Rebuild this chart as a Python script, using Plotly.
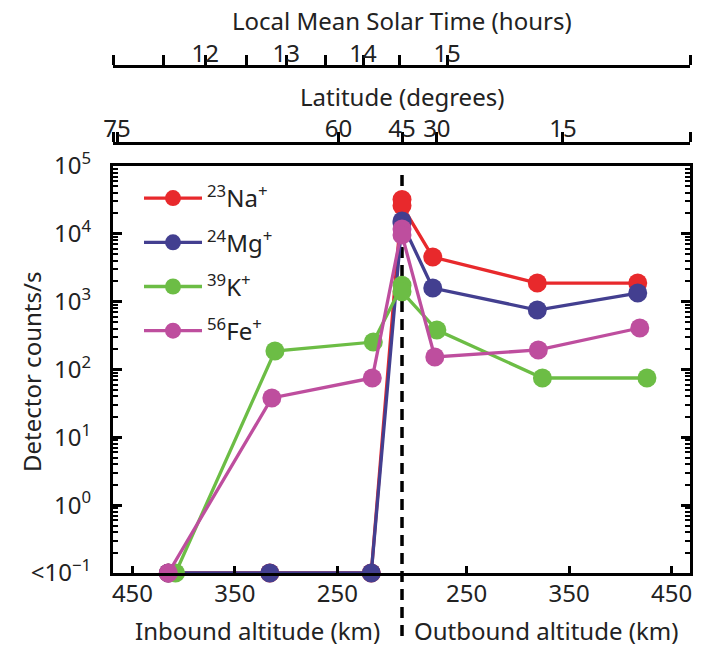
import plotly.graph_objects as go

# ---------------- data ----------------
periapsis_alt_km = 187  # altitude at the dashed line (closest approach)

species = ["<sup>23</sup>Na<sup>+</sup>", "<sup>24</sup>Mg<sup>+</sup>",
           "<sup>39</sup>K<sup>+</sup>", "<sup>56</sup>Fe<sup>+</sup>"]
colors = ["#E8292C", "#433F90", "#6CBD45", "#BE4E9E"]

# 0.1 means "<10^-1" (below detection, drawn on the floor of the axis)
na_in_alt = [415, 316, 217, 187]
na_in_val = [0.1, 0.1, 0.1, 32000]
na_out_alt = [187, 217, 319, 417]
na_out_val = [26000, 4550, 1880, 1880]

mg_in_alt = [415, 316, 217, 187]
mg_in_val = [0.1, 0.1, 0.1, 15500]
mg_out_alt = [187, 217, 319, 417]
mg_out_val = [14500, 1590, 753, 1340]

k_in_alt = [408, 311, 215, 187]
k_in_val = [0.1, 187, 254, 1750]
k_out_alt = [187, 221, 324, 426]
k_out_val = [1400, 382, 75, 75]

fe_in_alt = [415, 314, 216, 187]
fe_in_val = [0.1, 38, 75, 11800]
fe_out_alt = [187, 219, 320, 419]
fe_out_val = [9600, 153, 194, 409]

# bottom axis ticks (altitude, km)
alt_tick_labels = [450, 350, 250]

# y axis ticks
y_tickvals = [0.1, 1, 10, 100, 1000, 10000, 100000]
y_ticktext = ["<10<sup>\u22121</sup>", "10<sup>0</sup>", "10<sup>1</sup>",
              "10<sup>2</sup>", "10<sup>3</sup>", "10<sup>4</sup>", "10<sup>5</sup>"]

# top axes: positions along the track (signed km from periapsis) of each label
track_range = [-282, 281]
lmst_hour_track = [-192, -113, -38, 44]
lmst_hour_labels = ["12", "13", "14", "15"]
lmst_halfhour_track = [-233, -152, -75, -2]
lat_track = [-278, -62, 0, 34, 157]
lat_labels = ["75", "60", "45", "30", "15"]


def to_track(in_alt, out_alt):
    return ([-(a - periapsis_alt_km) for a in in_alt] +
            [a - periapsis_alt_km for a in out_alt])


series = [
    (na_in_alt, na_in_val, na_out_alt, na_out_val),
    (mg_in_alt, mg_in_val, mg_out_alt, mg_out_val),
    (k_in_alt, k_in_val, k_out_alt, k_out_val),
    (fe_in_alt, fe_in_val, fe_out_alt, fe_out_val),
]

FONT = "Noto Sans"
TXT = "#222"
fig = go.Figure()
for i, (ia, iv, oa, ov) in enumerate(series):
    fig.add_trace(go.Scatter(
        x=to_track(ia, oa), y=iv + ov, name=species[i],
        mode="lines+markers", legendgroup=str(i),
        line=dict(color=colors[i], width=3.3),
        marker=dict(color=colors[i], size=19),
        cliponaxis=False,
    ))

# invisible traces to activate top axes
for ax in ("x2", "x3"):
    fig.add_trace(go.Scatter(x=track_range, y=[1, 1], xaxis=ax, yaxis="y",
                             mode="markers", marker=dict(opacity=0), showlegend=False,
                             hoverinfo="skip"))

W, H = 701, 648
ml, mr, mt, mb = 113, 11, 0, 75
pw = W - ml - mr
ph = H - mt - mb


def py(px_page):
    return 1 - (px_page - mt) / ph


def px(px_page):
    return (px_page - ml) / pw


bottom_tickvals = ([-(a - periapsis_alt_km) for a in alt_tick_labels] +
                   [a - periapsis_alt_km for a in alt_tick_labels[::-1]])
bottom_ticktext = [str(a) for a in alt_tick_labels] + [str(a) for a in alt_tick_labels[::-1]]

axis_common = dict(showgrid=False, zeroline=False, showline=True, linecolor="black",
                   tickcolor="black", tickfont=dict(family=FONT, size=24, color=TXT))

top_common = dict(range=track_range, overlaying="x", anchor="free", side="top",
                  tickmode="array", ticks="outside", ticklen=10, tickwidth=3,
                  linewidth=3, automargin=False, **axis_common)

fig.update_layout(
    width=W, height=H,
    margin=dict(l=ml, r=mr, t=mt, b=mb),
    paper_bgcolor="white", plot_bgcolor="white",
    font=dict(family=FONT, size=24, color=TXT),
    xaxis=dict(range=track_range, tickmode="array", tickvals=bottom_tickvals,
               ticktext=bottom_ticktext, ticks="inside", ticklen=7, tickwidth=2.5,
               linewidth=3, mirror=True, ticklabelstandoff=-3, automargin=False,
               **axis_common),
    xaxis2=dict(position=py(66), tickvals=lmst_hour_track, ticktext=lmst_hour_labels,
                ticklabelstandoff=-17,
                minor=dict(tickmode="array",
                           tickvals=[track_range[0]] + lmst_halfhour_track + [track_range[1]],
                           ticks="outside", ticklen=10, tickwidth=3, tickcolor="black",
                           showgrid=False),
                **top_common),
    xaxis3=dict(position=py(143), tickvals=lat_track, ticktext=lat_labels,
                ticklabelstandoff=-15,
                minor=dict(tickmode="array", tickvals=track_range,
                           ticks="outside", ticklen=10, tickwidth=3, tickcolor="black",
                           showgrid=False),
                **top_common),
    yaxis=dict(type="log", range=[-1, 5], domain=[0, py(166)], tickmode="array",
               tickvals=y_tickvals, ticktext=y_ticktext, ticks="inside", ticklen=9,
               tickwidth=3, linewidth=3, mirror="ticks", ticklabelstandoff=14,
               minor=dict(ticks="inside", ticklen=5, tickwidth=1.5, dtick="D1",
                          tickcolor="black", showgrid=False),
               automargin=False, **axis_common),
    legend=dict(x=px(139), y=py(176), xanchor="left", yanchor="top",
                bgcolor="rgba(0,0,0,0)", font=dict(family=FONT, size=24, color=TXT),
                itemwidth=58, tracegroupgap=10),
    showlegend=True,
)

fig.add_shape(type="line", xref="x", yref="paper", x0=0, x1=0, y0=py(636), y1=py(168),
              line=dict(color="black", width=3.5, dash="11px,7px"), layer="below")

for txt, xp, yp in [("Local Mean Solar Time (hours)", 0.5, py(20)),
                    ("Latitude (degrees)", 0.5, py(97)),
                    ("Inbound altitude (km)", 0.25, py(630)),
                    ("Outbound altitude (km)", 0.75, py(630))]:
    fig.add_annotation(text=txt, xref="paper", yref="paper", x=xp, y=yp,
                       showarrow=False, xanchor="center", yanchor="middle",
                       font=dict(family=FONT, size=24, color=TXT))

fig.add_annotation(text="Detector counts/s", xref="paper", yref="paper",
                   x=px(31), y=py(372), textangle=-90, showarrow=False,
                   xanchor="center", yanchor="middle",
                   font=dict(family=FONT, size=24, color=TXT))

# remove the browser's default 8px body margin so the figure fills the window
fig.write_html("out.html", config={"displayModeBar": False},
               post_script="document.body.style.margin='0';document.body.style.overflow='hidden';")
